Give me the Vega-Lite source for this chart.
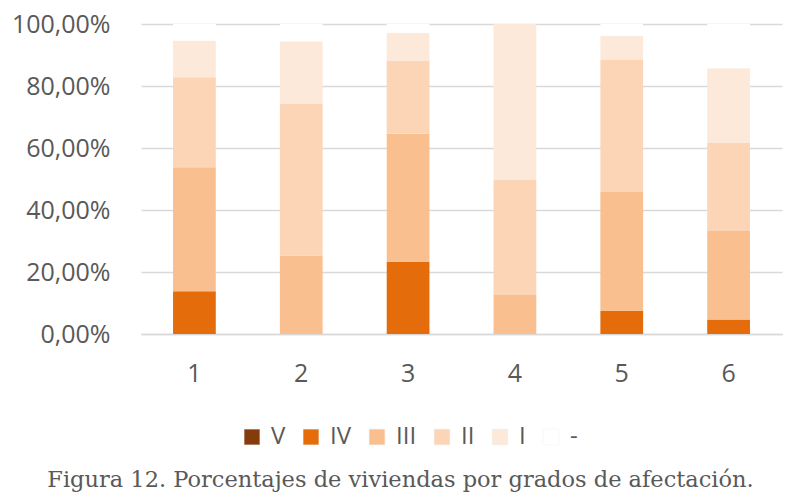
{
  "$schema": "https://vega.github.io/schema/vega-lite/v6.json",
  "autosize": "none",
  "width": 641,
  "height": 310,
  "padding": {"left": 141, "top": 24, "right": 16, "bottom": 170},
  "background": "#ffffff",
  "title": {
    "text": "Figura 12. Porcentajes de viviendas por grados de afectación.",
    "orient": "bottom",
    "anchor": "middle",
    "font": "DejaVu Serif",
    "fontSize": 22.5,
    "fontWeight": "normal",
    "color": "#595959",
    "offset": 20,
    "dx": -61
  },
  "data": {
    "values": [
      {"grupo": "1", "grado": "V", "pct": 0},
      {"grupo": "1", "grado": "IV", "pct": 13.8},
      {"grupo": "1", "grado": "III", "pct": 40.0},
      {"grupo": "1", "grado": "II", "pct": 29.0},
      {"grupo": "1", "grado": "I", "pct": 11.9},
      {"grupo": "1", "grado": "-", "pct": 5.3},
      {"grupo": "2", "grado": "V", "pct": 0},
      {"grupo": "2", "grado": "IV", "pct": 0},
      {"grupo": "2", "grado": "III", "pct": 25.3},
      {"grupo": "2", "grado": "II", "pct": 48.9},
      {"grupo": "2", "grado": "I", "pct": 20.2},
      {"grupo": "2", "grado": "-", "pct": 5.6},
      {"grupo": "3", "grado": "V", "pct": 0},
      {"grupo": "3", "grado": "IV", "pct": 23.2},
      {"grupo": "3", "grado": "III", "pct": 41.4},
      {"grupo": "3", "grado": "II", "pct": 23.6},
      {"grupo": "3", "grado": "I", "pct": 9.0},
      {"grupo": "3", "grado": "-", "pct": 2.8},
      {"grupo": "4", "grado": "V", "pct": 0},
      {"grupo": "4", "grado": "IV", "pct": 0},
      {"grupo": "4", "grado": "III", "pct": 12.6},
      {"grupo": "4", "grado": "II", "pct": 37.1},
      {"grupo": "4", "grado": "I", "pct": 50.3},
      {"grupo": "4", "grado": "-", "pct": 0},
      {"grupo": "5", "grado": "V", "pct": 0},
      {"grupo": "5", "grado": "IV", "pct": 7.4},
      {"grupo": "5", "grado": "III", "pct": 38.4},
      {"grupo": "5", "grado": "II", "pct": 42.6},
      {"grupo": "5", "grado": "I", "pct": 7.8},
      {"grupo": "5", "grado": "-", "pct": 3.8},
      {"grupo": "6", "grado": "V", "pct": 0},
      {"grupo": "6", "grado": "IV", "pct": 4.7},
      {"grupo": "6", "grado": "III", "pct": 28.5},
      {"grupo": "6", "grado": "II", "pct": 28.4},
      {"grupo": "6", "grado": "I", "pct": 24.1},
      {"grupo": "6", "grado": "-", "pct": 14.3}
    ]
  },
  "mark": {"type": "bar"},
  "encoding": {
    "x": {
      "field": "grupo",
      "type": "ordinal",
      "title": null,
      "scale": {"paddingInner": 0.6, "paddingOuter": 0.3},
      "axis": {
        "labelAngle": 0,
        "ticks": false,
        "domainColor": "#d9d9d9",
        "domainWidth": 1.5,
        "labelPadding": 27
      }
    },
    "y": {
      "field": "pct",
      "type": "quantitative",
      "stack": "zero",
      "title": null,
      "scale": {"domain": [0, 100], "nice": false},
      "axis": {
        "values": [0, 20, 40, 60, 80, 100],
        "labelExpr": "replace(format(datum.value, '.2f'), '.', ',') + '%'",
        "ticks": false,
        "domain": false,
        "gridColor": "#d9d9d9",
        "gridWidth": 1.5,
        "labelPadding": 31
      }
    },
    "color": {
      "field": "grado",
      "type": "nominal",
      "sort": ["V", "IV", "III", "II", "I", "-"],
      "scale": {
        "domain": ["V", "IV", "III", "II", "I", "-"],
        "range": ["#843c0c", "#e46c0a", "#f9bf8f", "#fbd5b5", "#fde9d9", "#ffffff"]
      },
      "legend": {
        "title": null,
        "orient": "none",
        "legendX": 99,
        "legendY": 401,
        "direction": "horizontal",
        "symbolType": "square",
        "symbolSize": 250,
        "symbolStrokeColor": "#f0f0f0",
        "symbolStrokeWidth": 0.5,
        "labelFontSize": 24,
        "labelColor": "#595959",
        "labelFont": "Open Sans",
        "columnPadding": 13,
        "labelOffset": 7
      }
    },
    "order": {"field": "grado", "sort": "descending"}
  },
  "config": {
    "view": {"stroke": null},
    "axis": {
      "labelFont": "Open Sans",
      "labelFontSize": 25,
      "labelColor": "#595959"
    }
  }
}
